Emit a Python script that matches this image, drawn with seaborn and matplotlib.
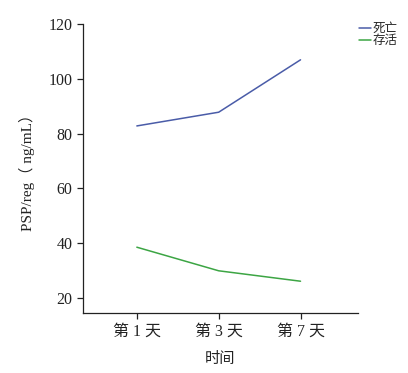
import pandas as pd
import matplotlib
matplotlib.use("Agg")
import matplotlib.pyplot as plt
import seaborn as sns

# 数据
days = ["第 1 天", "第 3 天", "第 7 天"]
dead = [82.8, 87.8, 106.9]
alive = [38.6, 30.0, 26.2]
groups = ["死亡", "存活"]
colors = ["#4a5ca8", "#3ca544"]

sns.set_style("ticks")
plt.rcParams['font.family'] = ['Liberation Serif', 'Noto Sans CJK SC']
plt.rcParams['axes.unicode_minus'] = False

df = pd.DataFrame({
    "时间": days * 2,
    "x": list(range(len(days))) * 2,
    "值": dead + alive,
    "组": [groups[0]] * 3 + [groups[1]] * 3,
})

fig = plt.figure(figsize=(4.08, 3.73), dpi=100)
ax = fig.add_axes([0.203, 0.160, 0.674, 0.776])

sns.lineplot(data=df, x="x", y="值", hue="组", palette=colors, ax=ax,
             linewidth=1.1, legend=True)

ax.set_xlim(-0.66, 2.70)
ax.set_ylim(14.5, 120)
ax.set_yticks([20, 40, 60, 80, 100, 120])
ax.set_xticks(range(len(days)))
ax.set_xticklabels(days)
ax.tick_params(labelsize=11.5, width=0.9, length=4, colors="#222222")
for s in ["left", "bottom"]:
    ax.spines[s].set_linewidth(0.9)
    ax.spines[s].set_color("#222222")
sns.despine(ax=ax)

ax.set_xlabel("时间", fontsize=11, labelpad=9, color="#222222")
ax.set_ylabel("PSP/reg（ ng/mL）", fontsize=11, labelpad=10, color="#222222")

leg = ax.legend(loc="upper left", bbox_to_anchor=(0.985, 1.02), frameon=False,
                fontsize=9, handlelength=1.0, handletextpad=0.1,
                labelspacing=0.0, borderaxespad=0.0)

fig.savefig("out.png", dpi=100)
